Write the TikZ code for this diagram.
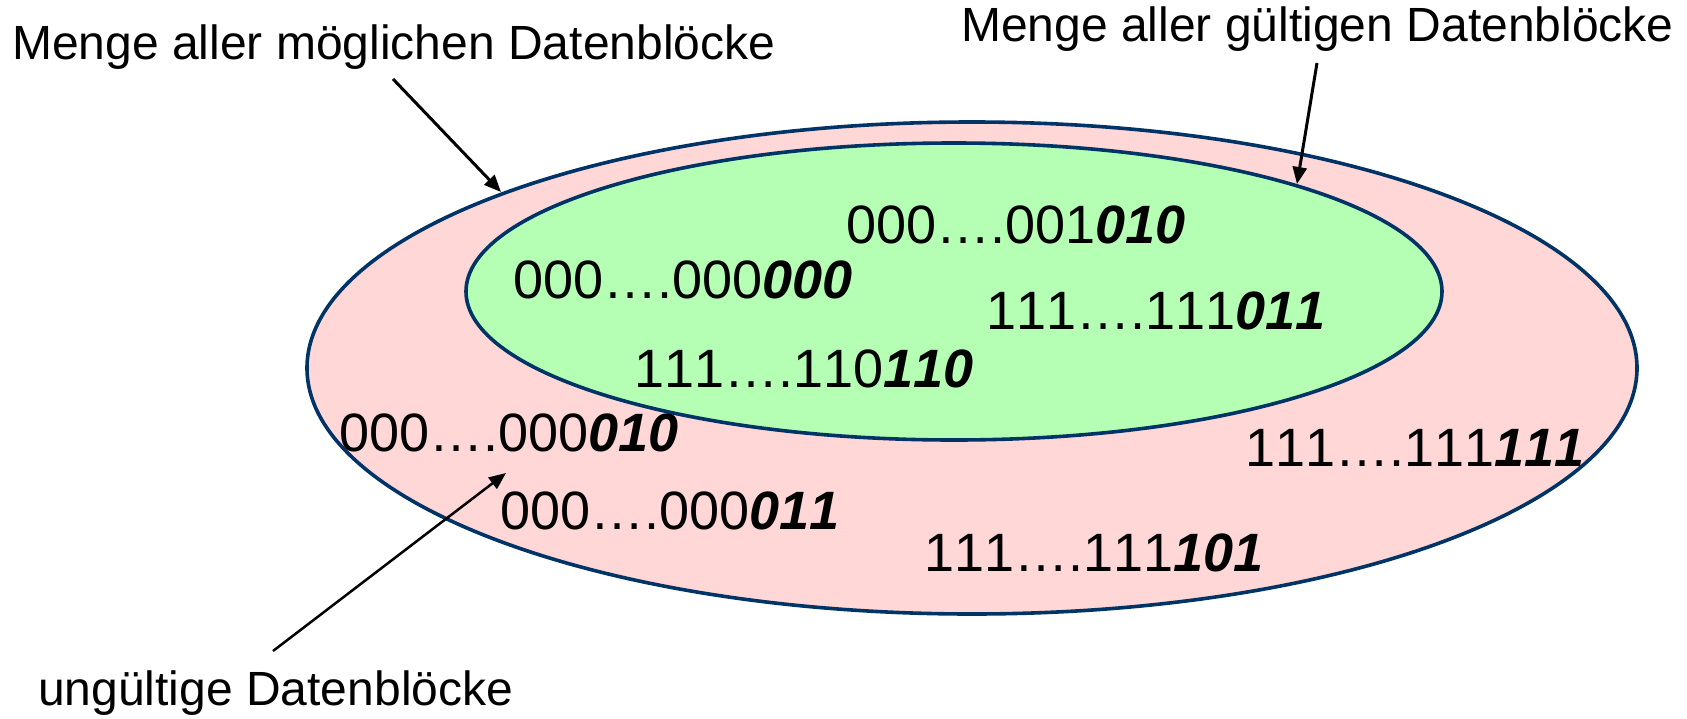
\documentclass[tikz,border=0pt]{standalone}
\usepackage{fontspec}
\setmainfont[Kerning=Off]{Liberation Sans}
\usetikzlibrary{arrows.meta,shapes.geometric}
\definecolor{rimblue}{RGB}{0,51,102}
\definecolor{pinkfill}{RGB}{255,215,215}
\definecolor{greenfill}{RGB}{180,255,180}
\tikzset{
  setshape/.style={ellipse,draw=rimblue,line width=3.6pt,inner sep=0pt},
  lbl/.style={anchor=base west,inner sep=0pt,font=\fontsize{48}{56}\selectfont},
  num/.style={anchor=base west,inner sep=0pt,font=\fontsize{54}{62}\selectfont},
  pointer/.style={draw=black,line width=3pt,-{Triangle[length=17pt,width=14pt]}},
}
\newcommand{\bits}[2]{#1\textbf{\textit{#2}}}
\begin{document}
\begin{tikzpicture}[x=1pt,y=-1pt]
\useasboundingbox (0,0) rectangle (1687,718);
% sets
\node[setshape,fill=pinkfill,minimum width=1330pt,minimum height=492pt] (outer) at (972,368) {};
\node[setshape,fill=greenfill,minimum width=976pt,minimum height=297pt] (inner) at (954,291.5) {};
% labels
\node[lbl] (lblall) at (12,59) {Menge aller möglichen Datenblöcke};
\node[lbl] (lblvalid) at (961,41) {Menge aller gültigen Datenblöcke};
\node[lbl] (lblinvalid) at (38,705) {ungültige Datenblöcke};
% numbers
\node[num] (n1) at (846,243) {\bits{000….001}{010}};
\node[num] (n2) at (513,298) {\bits{000….000}{000}};
\node[num] (n3) at (986,329) {\bits{111….111}{011}};
\node[num] (n4) at (634,387) {\bits{111….110}{110}};
\node[num] (n5) at (339,451) {\bits{000….000}{010}};
\node[num] (n6) at (1245,466) {\bits{111….111}{111}};
\node[num] (n7) at (500,529) {\bits{000….000}{011}};
\node[num] (n8) at (924,571) {\bits{111….111}{101}};
% arrow ends
\coordinate (a1s) at (393,79);
\coordinate (a1e) at (501,192);
\coordinate (a2s) at (1317,63);
\coordinate (a2e) at (1297,184);
\coordinate (a3s) at (273,651);
\coordinate (a3e) at (506,473);
\draw[pointer] (a1s) -- (a1e);
\draw[pointer] (a2s) -- (a2e);
\draw[pointer,line width=2.5pt] (a3s) -- (a3e);
\end{tikzpicture}
\end{document}
